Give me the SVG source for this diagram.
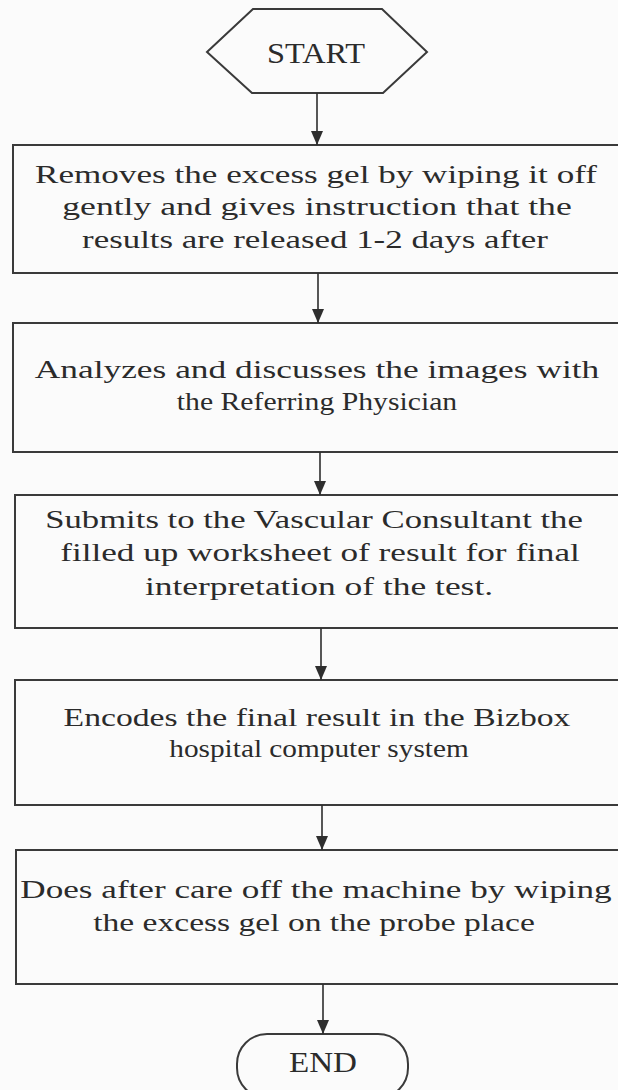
<svg xmlns="http://www.w3.org/2000/svg" width="618" height="1090" viewBox="0 0 618 1090">
<defs>
<style>
.shape{fill:none;stroke:#3a3a3a;stroke-width:2}
.t{font-family:"Liberation Serif","Times New Roman",serif;font-size:25px;fill:#2b2b2b;text-anchor:middle}
.big{font-size:30px}
.conn line{stroke:#2e2e2e;stroke-width:1.6}
</style>
<marker id="ah" viewBox="0 0 14 12" refX="14" refY="6" markerWidth="14" markerHeight="12" markerUnits="userSpaceOnUse" orient="auto">
<path d="M0,0 L14,6 L0,12 Z" fill="#2e2e2e"/>
</marker>
</defs>
<rect x="0" y="0" width="618" height="1090" fill="#fbfbfb"/>
<g id="start">
<polygon class="shape" points="207,52 253,9 382,9 427,52 383,93 252,93"/>
<text class="t big" x="316" y="63" textLength="98" lengthAdjust="spacingAndGlyphs">START</text>
</g>
<g id="step1">
<rect class="shape" x="13" y="145" width="610" height="128"/>
<text class="t" transform="matrix(1.28 0 0 1 316 183)" textLength="439" lengthAdjust="spacingAndGlyphs">Removes the excess gel by wiping it off</text>
<text class="t" transform="matrix(1.28 0 0 1 317 215)" textLength="398" lengthAdjust="spacingAndGlyphs">gently and gives instruction that the</text>
<text class="t" transform="matrix(1.28 0 0 1 315 248)" textLength="364" lengthAdjust="spacingAndGlyphs">results are released 1-2 days after</text>
</g>
<g id="step2">
<rect class="shape" x="13" y="323" width="610" height="129"/>
<text class="t" transform="matrix(1.28 0 0 1 317 378)" textLength="441" lengthAdjust="spacingAndGlyphs">Analyzes and discusses the images with</text>
<text class="t" transform="matrix(1.28 0 0 1 317 410)" textLength="219" lengthAdjust="spacingAndGlyphs">the Referring Physician</text>
</g>
<g id="step3">
<rect class="shape" x="15" y="495" width="610" height="133"/>
<text class="t" transform="matrix(1.28 0 0 1 314 528)" textLength="420" lengthAdjust="spacingAndGlyphs">Submits to the Vascular Consultant the</text>
<text class="t" transform="matrix(1.28 0 0 1 320 561)" textLength="406" lengthAdjust="spacingAndGlyphs">filled up worksheet of result for final</text>
<text class="t" transform="matrix(1.28 0 0 1 319 595)" textLength="272" lengthAdjust="spacingAndGlyphs">interpretation of the test.</text>
</g>
<g id="step4">
<rect class="shape" x="15" y="680" width="610" height="125"/>
<text class="t" transform="matrix(1.28 0 0 1 317 726)" textLength="396" lengthAdjust="spacingAndGlyphs">Encodes the final result in the Bizbox</text>
<text class="t" transform="matrix(1.28 0 0 1 319 757)" textLength="234" lengthAdjust="spacingAndGlyphs">hospital computer system</text>
</g>
<g id="step5">
<rect class="shape" x="16" y="850" width="610" height="134"/>
<text class="t" transform="matrix(1.28 0 0 1 316 898)" textLength="462" lengthAdjust="spacingAndGlyphs">Does after care off the machine by wiping</text>
<text class="t" transform="matrix(1.28 0 0 1 314 931)" textLength="345" lengthAdjust="spacingAndGlyphs">the excess gel on the probe place</text>
</g>
<g id="end">
<rect class="shape" x="237" y="1034" width="171" height="64" rx="30" ry="30"/>
<text class="t big" x="323" y="1072" textLength="68" lengthAdjust="spacingAndGlyphs">END</text>
</g>
<g class="conn" id="connectors">
<line x1="317" y1="93" x2="317" y2="145" marker-end="url(#ah)"/>
<line x1="318" y1="273" x2="318" y2="323" marker-end="url(#ah)"/>
<line x1="320" y1="452" x2="320" y2="495" marker-end="url(#ah)"/>
<line x1="321" y1="628" x2="321" y2="680" marker-end="url(#ah)"/>
<line x1="322" y1="805" x2="322" y2="850" marker-end="url(#ah)"/>
<line x1="323" y1="984" x2="323" y2="1034" marker-end="url(#ah)"/>
</g>
</svg>
